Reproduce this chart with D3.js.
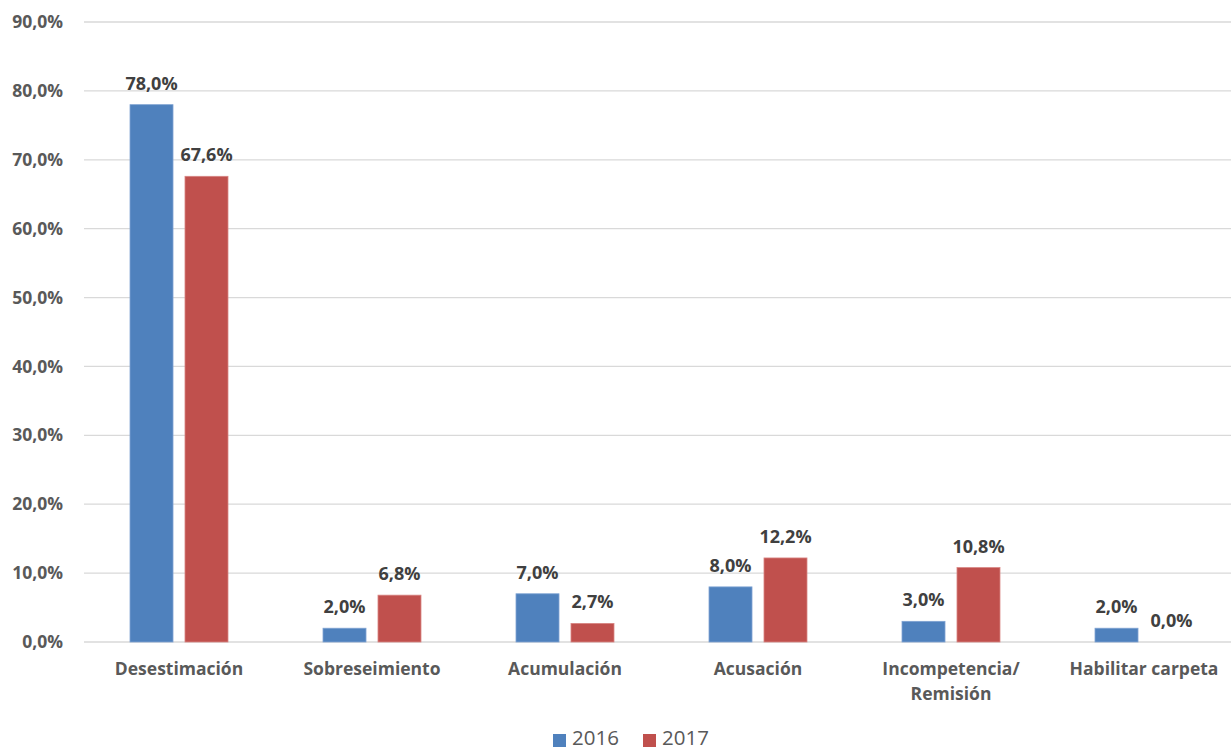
<!DOCTYPE html>
<html><head><meta charset="utf-8">
<script src="https://cdn.jsdelivr.net/npm/d3@7"></script>
<style>body{margin:0;background:#fff}svg{display:block}</style>
</head><body>
<svg id="c" width="1231" height="751"></svg>
<script>
const categories = [["Desestimación"],["Sobreseimiento"],["Acumulación"],["Acusación"],["Incompetencia/","Remisión"],["Habilitar carpeta"]];
const series2016 = [78.0, 2.0, 7.0, 8.0, 3.0, 2.0];
const series2017 = [67.6, 6.8, 2.7, 12.2, 10.8, 0.0];
const seriesNames = ["2016","2017"];
const colors = ["#4f81bd","#c0504d"];
const yTicks = [0,10,20,30,40,50,60,70,80,90];

const svg = d3.select("#c");
const font = "'Open Sans', 'DejaVu Sans', sans-serif";
const txt = "#595959";
const x = d3.scaleBand().domain(d3.range(categories.length)).range([82.5, 1240.5]).paddingInner(0).paddingOuter(0);
const y = d3.scaleLinear().domain([0,90]).range([642, 22]);
const sub = d3.scaleBand().domain([0,1]).range([0, x.bandwidth()]).paddingInner(0.218).paddingOuter(0.864);

// gridlines
svg.append("g").selectAll("line").data(yTicks).join("line")
  .attr("x1",84).attr("x2",1231).attr("y1",d=>y(d)).attr("y2",d=>y(d))
  .attr("stroke","#d9d9d9").attr("stroke-width",1.3);

// y axis labels
const yAxis = d3.axisLeft(y).tickValues(yTicks).tickSize(0).tickPadding(0)
  .tickFormat(d=>d.toFixed(1).replace(".",",")+"%");
const ga = svg.append("g").attr("transform","translate(63,0)").call(yAxis);
ga.select(".domain").remove();
ga.selectAll("text").attr("font-family",font).attr("font-size",17.5).attr("font-weight","bold").attr("fill",txt);

const data = [series2016, series2017];
data.forEach((vals, s) => {
  const g = svg.append("g");
  g.selectAll("rect").data(vals).join("rect")
    .attr("x",(d,i)=>x(i)+sub(s)).attr("width",sub.bandwidth())
    .attr("y",d=>y(d)).attr("height",d=>y(0)-y(d))
    .attr("fill",colors[s]).attr("stroke", s===0?"#7fa3d2":"#d88583").attr("stroke-width",0.8);
  g.selectAll("text").data(vals).join("text")
    .attr("x",(d,i)=>x(i)+sub(s)+sub.bandwidth()/2)
    .attr("y",d=>y(d)-15)
    .attr("text-anchor","middle").attr("font-family",font).attr("font-size",18).attr("font-weight","bold").attr("fill","#404040")
    .text(d=>d.toFixed(1).replace(".",",")+"%");
});

// category labels
const gx = svg.append("g");
categories.forEach((lines,i)=>{
  const t = gx.append("text").attr("x",x(i)+x.bandwidth()/2).attr("y",675)
    .attr("text-anchor","middle").attr("font-family",font).attr("font-size",17.5).attr("font-weight","bold").attr("fill",txt);
  lines.forEach((l,j)=>t.append("tspan").attr("x",x(i)+x.bandwidth()/2).attr("dy",j===0?0:25).text(l));
});

// legend
const leg = svg.append("g");
const lx = [553, 643];
seriesNames.forEach((n,i)=>{
  leg.append("rect").attr("x",lx[i]).attr("y",734).attr("width",13).attr("height",13).attr("fill",colors[i]);
  leg.append("text").attr("x",lx[i]+19).attr("y",745).attr("font-family",font).attr("font-size",20.5).attr("fill",txt).text(n);
});
</script>
</body></html>
